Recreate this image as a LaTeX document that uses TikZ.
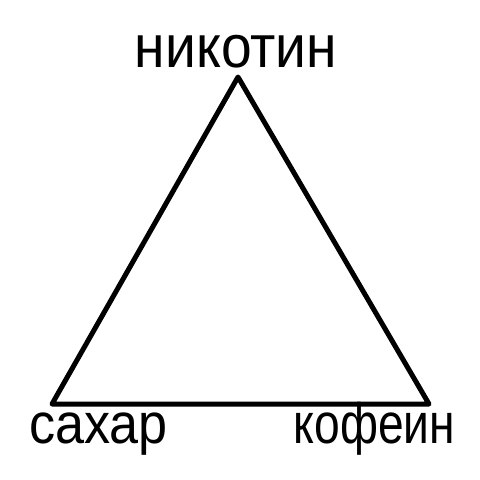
\documentclass[tikz,border=0pt]{standalone}
\usepackage{fontspec}
\setmainfont{Liberation Sans}
\begin{document}
\begin{tikzpicture}[x=1pt,y=-1pt,
  lbl/.style={inner sep=0pt,anchor=base,font=\fontsize{57}{64}\selectfont},
  edge/.style={line width=5pt,line join=round,line cap=round}]
\useasboundingbox (0,0) rectangle (480,480);
\coordinate (A) at (238,77);
\coordinate (B) at (52,404);
\coordinate (C) at (429,404);
\draw[edge] (A) -- (B) -- (C) -- cycle;
\node[lbl,xscale=0.92,font=\fontsize{60}{64}\selectfont] (top) at (236,67) {никотин};
\node[lbl,xscale=0.915] (left) at (98.5,443) {сахар};
\node[lbl,xscale=0.81] (right) at (374.5,443) {кофеин};
\end{tikzpicture}
\end{document}
